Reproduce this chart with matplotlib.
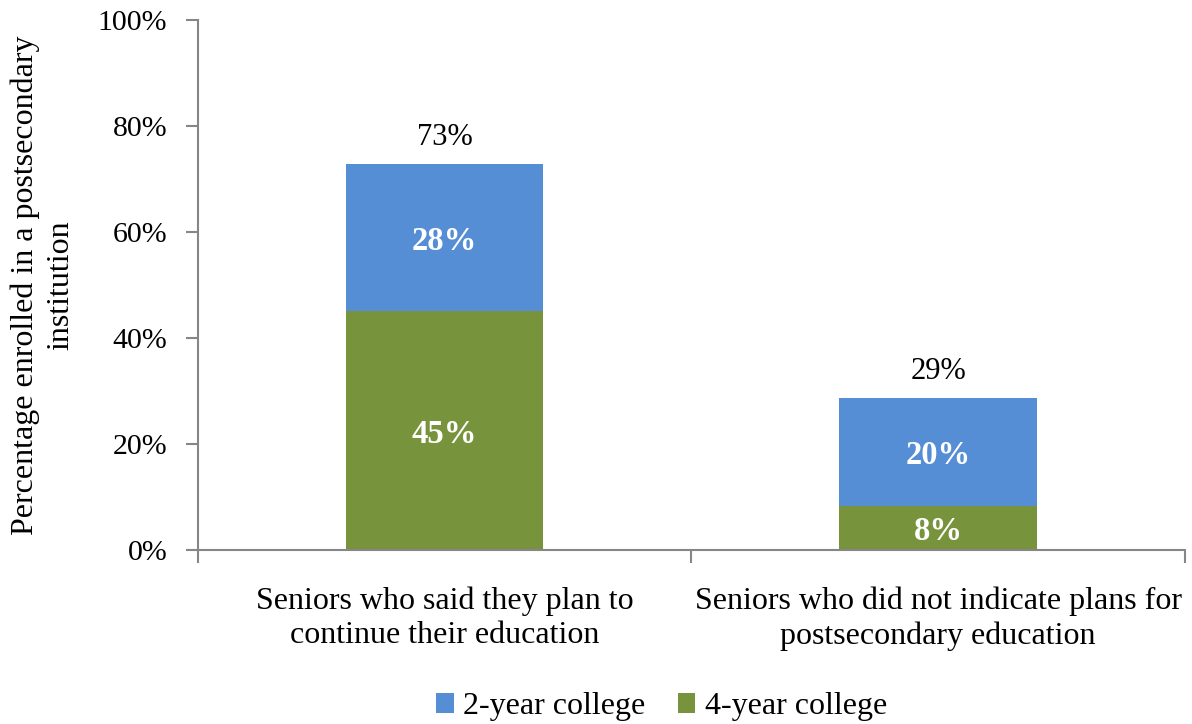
import matplotlib
matplotlib.use("Agg")
import matplotlib.pyplot as plt
from matplotlib.ticker import FixedLocator

plt.rcParams['font.family'] = ['Liberation Serif', 'DejaVu Serif']

categories = ["Seniors who said they plan to\ncontinue their education",
              "Seniors who did not indicate plans for\npostsecondary education"]
four_year = [45.1, 8.3]
two_year = [27.8, 20.4]
four_labels = ["45%", "8%"]
two_labels = ["28%", "20%"]
total_labels = ["73%", "29%"]
yticks = [0, 20, 40, 60, 80, 100]
ytick_labels = ["0%", "20%", "40%", "60%", "80%", "100%"]

blue = "#558ED5"
green = "#77933C"
axis_col = "#868686"

fig = plt.figure(figsize=(11.92, 7.24), dpi=100)
ax = fig.add_axes([0.166, 0.240, 0.828, 0.732])

x = list(range(len(categories)))
w = 0.4
ax.bar(x, four_year, width=w, color=green, label="4-year college")
ax.bar(x, two_year, width=w, bottom=four_year, color=blue, label="2-year college")

for i in x:
    ax.text(i, four_year[i] / 2, four_labels[i], ha='center', va='center_baseline',
            color='white', fontsize=23.5, fontweight='bold')
    ax.text(i, four_year[i] + two_year[i] / 2, two_labels[i], ha='center', va='center_baseline',
            color='white', fontsize=23.5, fontweight='bold')
    ax.text(i, four_year[i] + two_year[i] + 5.0, total_labels[i], ha='center', va='center',
            color='black', fontsize=22)

ax.set_xlim(-0.5, 1.5)
ax.set_ylim(0, 100)
ax.set_yticks(yticks)
ax.set_yticklabels(ytick_labels, fontsize=21.5)
ax.set_xticks(x)
ax.set_xticklabels(categories, fontsize=23, linespacing=1.25)
ax.xaxis.set_minor_locator(FixedLocator([-0.5, 0.5, 1.5]))
ax.tick_params(axis='x', which='major', length=0, pad=26)
ax.tick_params(axis='x', which='minor', length=9, color=axis_col, width=1.5)
ax.tick_params(axis='y', length=9, color=axis_col, width=1.5, pad=13)

for s in ['top', 'right']:
    ax.spines[s].set_visible(False)
for s in ['left', 'bottom']:
    ax.spines[s].set_color(axis_col)
    ax.spines[s].set_linewidth(1.5)

ax.set_ylabel("Percentage enrolled in a postsecondary\ninstitution", fontsize=23,
              labelpad=16, linespacing=1.3)

handles, labels = ax.get_legend_handles_labels()
fig.legend(handles[::-1], labels[::-1], loc='lower center', bbox_to_anchor=(0.555, -0.036),
           ncol=2, frameon=False, fontsize=23, handlelength=0.55, handleheight=0.55,
           handletextpad=0.3, columnspacing=1.0)

fig.savefig("out.png", dpi=100)
